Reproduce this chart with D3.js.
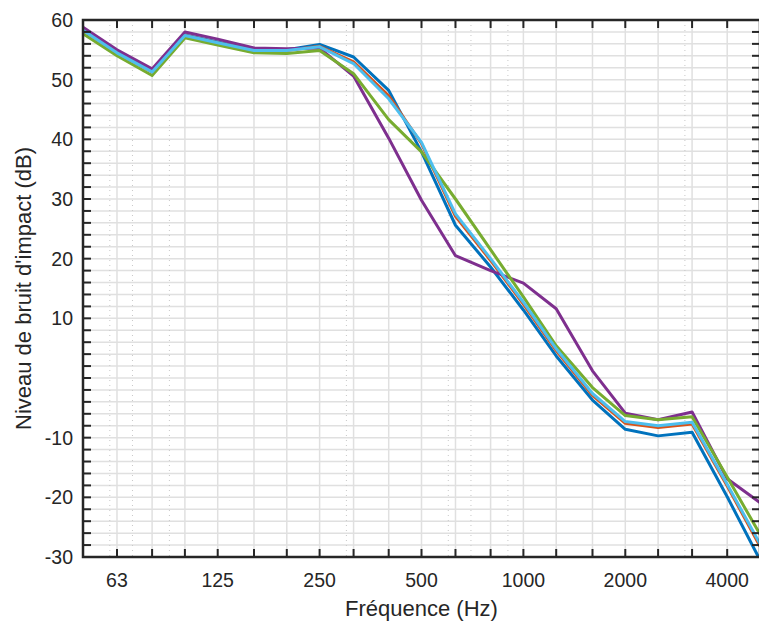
<!DOCTYPE html>
<html>
<head>
<meta charset="utf-8">
<script src="https://cdn.jsdelivr.net/npm/d3@7"></script>
<style>
  html, body { margin: 0; padding: 0; background: #fff; }
  svg { display: block; font-family: "Liberation Sans", Arial, sans-serif; }
</style>
</head>
<body>
<div id="chart"></div>
<script>
// bandes de tiers d'octave (Hz)
const frequencies = [50, 63, 80, 100, 125, 160, 200, 250, 315, 400, 500, 630, 800, 1000, 1250, 1600, 2000, 2500, 3150, 4000, 5000];

// niveaux de bruit d'impact (dB), une liste par courbe
const serieBleue = [58.4, 54.6, 51.4, 57.5, 56.3, 55.0, 55.0, 55.9, 53.8, 48.2, 37.9, 25.6, 18.6, 11.4, 3.7, -3.7, -8.6, -9.7, -9.1, -19.9, -30.5];
const serieRouge = [58.3, 54.5, 51.3, 57.4, 56.2, 54.9, 54.9, 55.6, 53.0, 47.3, 39.3, 27.1, 19.7, 12.4, 4.6, -2.9, -7.6, -8.3, -7.7, -18.1, -28.2];
const serieViolette = [58.8, 55.0, 51.8, 58.0, 56.8, 55.3, 55.2, 55.3, 50.6, 40.2, 29.8, 20.5, 18.0, 15.9, 11.6, 1.2, -5.9, -7.0, -5.7, -16.9, -20.9];
const serieVerte = [57.7, 54.0, 50.7, 57.0, 55.8, 54.5, 54.4, 54.9, 51.0, 43.3, 37.9, 30.0, 21.5, 13.6, 5.4, -1.6, -6.3, -7.0, -6.5, -16.6, -26.2];
const serieCyan = [58.3, 54.5, 51.3, 57.4, 56.2, 54.9, 54.9, 55.5, 52.7, 46.8, 39.5, 27.5, 20.0, 12.7, 4.9, -2.6, -7.3, -8.0, -7.4, -17.8, -27.8];

// étiquettes des graduations
const xTickLabels = [63, 125, 250, 500, 1000, 2000, 4000];
const yTickLabels = [-30, -20, -10, 10, 20, 30, 40, 50, 60];
const xMinorGrid = [60, 70, 90, 300, 600, 700, 900, 3000];

const width = 759;
const height = 623;
const mLeft = 83, mRight = 760, mTop = 20, mBottom = 557;

const svg = d3.select('#chart')
  .append('svg')
  .attr('width', width)
  .attr('height', height);

const x = d3.scaleLog().domain([50, 5000]).range([mLeft, mRight]);
const y = d3.scaleLinear().domain([-30, 60]).range([mBottom, mTop]);
const yTicks = d3.range(-30, 61, 2);

// Grille
const grid = svg.append('g');
grid.selectAll('line.h')
  .data(yTicks)
  .join('line')
  .attr('x1', mLeft).attr('x2', mRight)
  .attr('y1', (d) => y(d)).attr('y2', (d) => y(d))
  .attr('stroke', '#e0e0e0')
  .attr('stroke-width', 1.5);
grid.selectAll('line.v')
  .data(frequencies)
  .join('line')
  .attr('x1', (d) => x(d)).attr('x2', (d) => x(d))
  .attr('y1', mTop).attr('y2', mBottom)
  .attr('stroke', '#e0e0e0')
  .attr('stroke-width', 1.5);
grid.selectAll('line.m')
  .data(xMinorGrid)
  .join('line')
  .attr('x1', (d) => x(d)).attr('x2', (d) => x(d))
  .attr('y1', mTop).attr('y2', mBottom)
  .attr('stroke', '#c8c8c8')
  .attr('stroke-width', 1)
  .attr('stroke-dasharray', '1,4');

// Courbes
svg.append('clipPath').attr('id', 'clip')
  .append('rect')
  .attr('x', mLeft).attr('y', mTop)
  .attr('width', mRight - mLeft).attr('height', mBottom - mTop);

const line = d3.line()
  .x((d, i) => x(frequencies[i]))
  .y((d) => y(d));

const series = [
  { values: serieBleue, color: '#0072BD' },
  { values: serieRouge, color: '#D95319' },
  { values: serieViolette, color: '#7E2F8E' },
  { values: serieVerte, color: '#77AC30' },
  { values: serieCyan, color: '#4DBEEE' },
];

const curves = svg.append('g').attr('clip-path', 'url(#clip)');
series.forEach((s) => {
  curves.append('path')
    .datum(s.values)
    .attr('d', line)
    .attr('fill', 'none')
    .attr('stroke', s.color)
    .attr('stroke-width', 3)
    .attr('stroke-linejoin', 'round');
});

// Axes (boîte avec graduations vers l'intérieur)
const axisColor = '#262626';
const tickLen = 8;
const axes = svg.append('g').attr('stroke', axisColor).attr('stroke-width', 2);

frequencies.forEach((f) => {
  axes.append('line').attr('x1', x(f)).attr('x2', x(f)).attr('y1', mBottom).attr('y2', mBottom - tickLen);
  axes.append('line').attr('x1', x(f)).attr('x2', x(f)).attr('y1', mTop).attr('y2', mTop + tickLen);
});
yTicks.forEach((v) => {
  axes.append('line').attr('x1', mLeft).attr('x2', mLeft + tickLen).attr('y1', y(v)).attr('y2', y(v));
  axes.append('line').attr('x1', mRight).attr('x2', mRight - tickLen).attr('y1', y(v)).attr('y2', y(v));
});

axes.append('rect')
  .attr('x', mLeft).attr('y', mTop)
  .attr('width', mRight - mLeft).attr('height', mBottom - mTop)
  .attr('fill', 'none')
  .attr('stroke-width', 2.5);

// Étiquettes
svg.append('g').selectAll('text')
  .data(xTickLabels)
  .join('text')
  .attr('x', (d) => x(d))
  .attr('y', 587)
  .attr('text-anchor', 'middle')
  .attr('font-size', '19.5px')
  .attr('fill', axisColor)
  .text((d) => d);

svg.append('g').selectAll('text')
  .data(yTickLabels)
  .join('text')
  .attr('x', 73)
  .attr('y', (d) => y(d) + 7)
  .attr('text-anchor', 'end')
  .attr('font-size', '19.5px')
  .attr('fill', axisColor)
  .text((d) => d);

svg.append('text')
  .attr('x', (mLeft + mRight) / 2)
  .attr('y', 616)
  .attr('text-anchor', 'middle')
  .attr('font-size', '22px')
  .attr('fill', axisColor)
  .text('Fréquence (Hz)');

svg.append('text')
  .attr('transform', `translate(31, ${(mTop + mBottom) / 2}) rotate(-90)`)
  .attr('text-anchor', 'middle')
  .attr('font-size', '22px')
  .attr('fill', axisColor)
  .text("Niveau de bruit d'impact (dB)");
</script>
</body>
</html>
